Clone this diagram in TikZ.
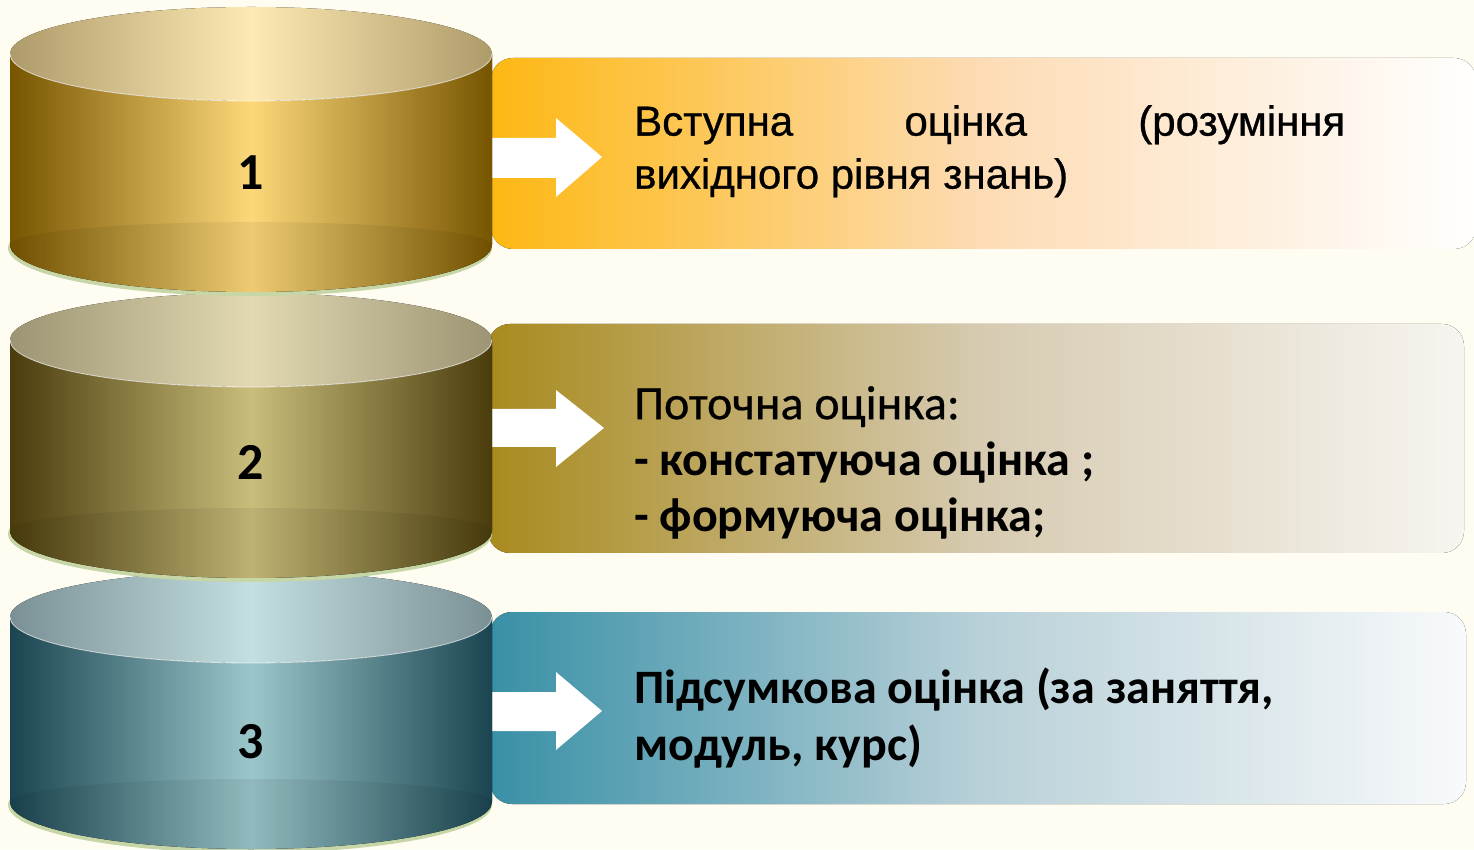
\documentclass[tikz,border=0pt]{standalone}
\usepackage{fontspec}
\setmainfont{Carlito}
\newfontfamily\arialfont[FakeBold=0.7]{Liberation Sans}
\newfontfamily\calibrithick[FakeBold=0.5]{Carlito}
\usetikzlibrary{calc}

\definecolor{backdrop}{HTML}{FFFDF1}
\definecolor{shadowgreen}{HTML}{C6D6A6}
\definecolor{goldedge}{HTML}{775500}
\definecolor{goldmid}{HTML}{FDD87A}
\definecolor{goldtopedge}{HTML}{AE9B6A}
\definecolor{goldtopmid}{HTML}{FDEAB3}
\definecolor{oliveedge}{HTML}{4A3C0C}
\definecolor{olivemid}{HTML}{C9BD7B}
\definecolor{olivetopedge}{HTML}{9C9472}
\definecolor{olivetopmid}{HTML}{E2D9B4}
\definecolor{tealedge}{HTML}{1A4450}
\definecolor{tealmid}{HTML}{9BC6CA}
\definecolor{tealtopedge}{HTML}{7A9095}
\definecolor{tealtopmid}{HTML}{C3DFE0}
\definecolor{boxoneleft}{HTML}{FDB813}
\definecolor{boxonemid}{HTML}{FDDCB5}
\definecolor{boxoneright}{HTML}{FFFFFF}
\definecolor{boxtwoleft}{HTML}{A88A1E}
\definecolor{boxtwomid}{HTML}{D6CAB0}
\definecolor{boxtworight}{HTML}{F7F5F0}
\definecolor{boxthreeleft}{HTML}{3990A6}
\definecolor{boxthreemid}{HTML}{B8D0D8}
\definecolor{boxthreeright}{HTML}{F8FAFB}

\tikzset{
    drumshadow/.style = {
    	fill=shadowgreen
    },
    drumrim/.style = {
    	white,
    	opacity=.7,
    	line width=.8pt
    },
    drumfoot/.style = {
    	fill=black,
    	opacity=.06
    },
    box/.style = {
    	rounded corners=22pt
    },
    pointer/.style = {
    	fill=white
    },
    number/.style = {
    	inner sep=0pt,
    	font=\fontsize{52}{52}\selectfont\bfseries
    },
    caption/.style = {
    	anchor=north west,
    	inner sep=0pt,
    	align=left,
    	font=\fontsize{48}{56}\selectfont
    }
}

\begin{document}
\begin{tikzpicture}[x=1pt,y=1pt]

	% Fondo
	\fill[backdrop] (0,0) rectangle (1474,849);
	\useasboundingbox (0,0) rectangle (1474,849);

	% Coordenadas importantes
	\coordinate (half) at (241,0);
	\coordinate (T1) at (251,795);
	\coordinate (T2) at (251,509);
	\coordinate (T3) at (251,232);
	\path (T1) + (0,-191) coordinate (B1);
	\path (T2) + (0,-191) coordinate (B2);
	\path (T3) + (0,-185) coordinate (B3);

	% Cajas de texto
	\fill[box, left color=boxoneleft, right color=boxoneright, middle color=boxonemid]
	(491,600) rectangle (1476,791);
	\fill[box, left color=boxtwoleft, right color=boxtworight, middle color=boxtwomid]
	(488,296) rectangle (1464,525);
	\fill[box, left color=boxthreeleft, right color=boxthreeright, middle color=boxthreemid]
	(490,45) rectangle (1466,237);

	% Flechas
	\fill[pointer] (492,711) -- (556,711) -- (556,731) -- (602,692) -- (556,652) -- (556,671) -- (492,671) -- cycle;
	\fill[pointer] (492,440) -- (556,440) -- (556,459) -- (604,421) -- (556,382) -- (556,402) -- (492,402) -- cycle;
	\fill[pointer] (492,157) -- (556,157) -- (556,177) -- (602,138) -- (556,99) -- (556,118) -- (492,118) -- cycle;

	% Textos
	\node[caption, font=\fontsize{42}{53}\selectfont\arialfont] (t1) at (634,744)
	{\makebox[711pt][s]{Вступна оцінка (розуміння}\\вихідного рівня знань)};
	\node[caption] (t2) at (634,463)
	{\calibrithick Поточна оцінка:\\\bfseries - констатуюча оцінка ;\\\bfseries - формуюча оцінка;};
	\node[caption, font=\fontsize{48}{57}\selectfont\bfseries] (t3) at (634,181)
	{Підсумкова оцінка (за заняття,\\модуль, курс)};

	% Cilindro 3
	\fill[drumshadow] ($(B3)+(-1,-3)$) ellipse [x radius=242, y radius=48];
	\fill[left color=tealedge, right color=tealedge, middle color=tealmid]
	($(T3)-(half)$) -- ($(B3)-(half)$) arc[start angle=180, end angle=360, x radius=241, y radius=47] -- ($(T3)+(half)$) -- cycle;
	\fill[drumfoot] ($(B3)-(half)$) arc[start angle=180, end angle=0, x radius=241, y radius=23] arc[start angle=0, end angle=-180, x radius=241, y radius=47];
	\fill[left color=tealtopedge, right color=tealtopedge, middle color=tealtopmid] (T3) ellipse [x radius=241, y radius=46];
	\draw[drumrim] ($(T3)-(half)$) arc[start angle=180, end angle=360, x radius=241, y radius=46];
	\node[number] (n3) at (251,107) {3};

	% Cilindro 2
	\fill[drumshadow] ($(B2)+(-1,-3)$) ellipse [x radius=242, y radius=48];
	\fill[left color=oliveedge, right color=oliveedge, middle color=olivemid]
	($(T2)-(half)$) -- ($(B2)-(half)$) arc[start angle=180, end angle=360, x radius=241, y radius=47] -- ($(T2)+(half)$) -- cycle;
	\fill[drumfoot] ($(B2)-(half)$) arc[start angle=180, end angle=0, x radius=241, y radius=23] arc[start angle=0, end angle=-180, x radius=241, y radius=47];
	\fill[left color=olivetopedge, right color=olivetopedge, middle color=olivetopmid] (T2) ellipse [x radius=241, y radius=47];
	\draw[drumrim] ($(T2)-(half)$) arc[start angle=180, end angle=360, x radius=241, y radius=47];
	\node[number] (n2) at (251,387) {2};

	% Cilindro 1
	\fill[drumshadow] ($(B1)+(-1,-3)$) ellipse [x radius=242, y radius=48];
	\fill[left color=goldedge, right color=goldedge, middle color=goldmid]
	($(T1)-(half)$) -- ($(B1)-(half)$) arc[start angle=180, end angle=360, x radius=241, y radius=47] -- ($(T1)+(half)$) -- cycle;
	\fill[drumfoot] ($(B1)-(half)$) arc[start angle=180, end angle=0, x radius=241, y radius=23] arc[start angle=0, end angle=-180, x radius=241, y radius=47];
	\fill[left color=goldtopedge, right color=goldtopedge, middle color=goldtopmid] (T1) ellipse [x radius=241, y radius=47];
	\draw[drumrim] ($(T1)-(half)$) arc[start angle=180, end angle=360, x radius=241, y radius=47];
	\node[number] (n1) at (251,676) {1};

\end{tikzpicture}
\end{document}
